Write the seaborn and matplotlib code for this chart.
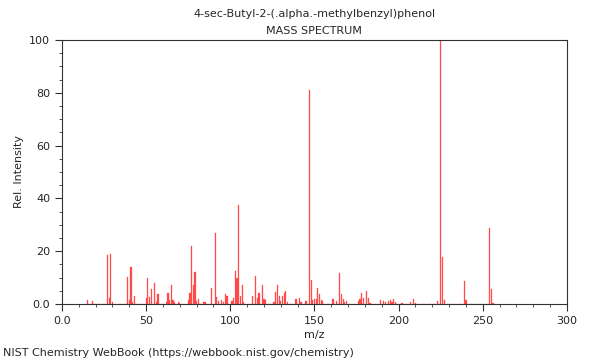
import matplotlib
matplotlib.use('Agg')
import matplotlib.pyplot as plt
import seaborn as sns
import pandas as pd
from matplotlib.ticker import MultipleLocator, FuncFormatter

# peak positions (m/z) and relative intensities
mz = [15, 18, 27, 28, 29, 30, 39, 40, 41, 42, 43, 50, 51, 52, 53, 55, 56, 57,
      62, 63, 64, 65, 66, 67, 69, 70, 75, 76, 77, 78, 79, 80, 81, 84, 85,
      89, 91, 92, 93, 95, 96, 97, 98, 101, 102, 103, 104, 105, 106, 107, 108,
      113, 115, 116, 117, 119, 120, 121, 126, 127, 128, 129, 130, 131, 132,
      133, 134, 139, 141, 142, 145, 147, 148, 149, 150, 151, 152, 153, 154,
      155, 161, 163, 165, 166, 167, 168, 169, 176, 177, 178, 179, 181, 182,
      183, 189, 191, 192, 194, 195, 196, 197, 198, 202, 207, 209, 210, 223,
      225, 226, 227, 239, 240, 254, 255, 256]
intensity = [1.6, 1.2, 18.4, 2.1, 18.9, 0.6, 10.1, 1.4, 13.9, 0.9, 3.0, 2.2,
             9.7, 2.8, 5.6, 7.8, 0.6, 3.8, 0.9, 4.0, 1.5, 7.3, 1.4, 0.9, 0.9,
             0.5, 1.5, 4.3, 21.8, 7.1, 12.0, 1.0, 2.0, 0.8, 0.7, 5.9, 26.9,
             2.5, 1.0, 1.5, 0.9, 3.7, 3.0, 1.3, 2.4, 12.4, 9.7, 37.4, 3.2, 7.2,
             0.8, 2.9, 10.5, 2.4, 4.3, 7.3, 1.8, 1.5, 0.9, 4.4, 7.3, 3.2, 1.0,
             2.9, 4.2, 4.8, 0.9, 1.8, 2.3, 0.6, 1.3, 81.0, 9.1, 1.6, 1.8, 1.8,
             6.1, 3.8, 1.4, 1.3, 2.0, 1.0, 11.6, 3.6, 2.0, 0.7, 1.0, 1.3, 1.9,
             4.2, 2.3, 5.0, 2.3, 0.5, 1.5, 1.3, 0.6, 1.3, 1.5, 0.8, 1.9, 0.8,
             0.5, 0.9, 2.0, 0.5, 1.0, 100.0, 17.8, 1.5, 8.6, 1.5, 28.6, 5.6,
             0.4]

title = '4-sec-Butyl-2-(.alpha.-methylbenzyl)phenol'
subtitle = 'MASS SPECTRUM'
footer = 'NIST Chemistry WebBook (https://webbook.nist.gov/chemistry)'

df = pd.DataFrame({'mz': mz, 'intensity': intensity})

sns.set_style('ticks')
plt.rcParams['font.family'] = ['DejaVu Sans']

fig = plt.figure(figsize=(6, 3.6), dpi=100)
ax = fig.add_axes([0.1033, 0.1556, 0.8417, 0.7333])

# stick spectrum: one narrow bar per m/z, height = relative intensity
sns.histplot(data=df, x='mz', weights='intensity', discrete=True, shrink=0.7,
             color='#ff4a4a', alpha=1, edgecolor='#ff4a4a', linewidth=0.2,
             ax=ax)

ax.set_xlim(0, 300)
ax.set_ylim(0, 100)
ax.xaxis.set_major_locator(MultipleLocator(50))
ax.xaxis.set_minor_locator(MultipleLocator(10))
ax.yaxis.set_major_locator(MultipleLocator(20))
ax.yaxis.set_minor_locator(MultipleLocator(5))
fmt = FuncFormatter(lambda v, p: '0.0' if v == 0 else f'{v:.0f}')
ax.xaxis.set_major_formatter(fmt)
ax.yaxis.set_major_formatter(fmt)
ax.tick_params(which='major', length=5, width=0.8, labelsize=8, color='#333333')
ax.tick_params(which='minor', length=2.5, width=0.6, color='#333333')
for s in ax.spines.values():
    s.set_linewidth(0.8)
    s.set_color('#333333')

ax.set_xlabel('m/z', fontsize=8, labelpad=3)
ax.set_ylabel('Rel. Intensity', fontsize=8, labelpad=4)

fig.text(0.524, 0.962, title, ha='center', va='center', fontsize=8)
fig.text(0.524, 0.915, subtitle, ha='center', va='center', fontsize=8)
fig.text(0.005, 0.02, footer, ha='left', va='center', fontsize=8)

fig.savefig('out.png', dpi=100)
